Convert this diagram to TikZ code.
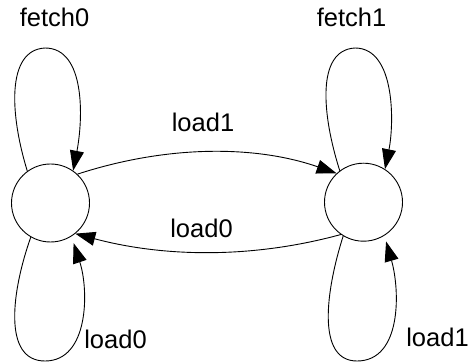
\documentclass[tikz,border=0pt]{standalone}
\usepackage{fontspec}
\setmainfont{Liberation Sans}
\usetikzlibrary{arrows.meta}

\tikzset{
  state/.style={circle, draw, line width=0.9pt, minimum size=78pt, inner sep=0pt},
  trans/.style={draw, line width=0.9pt, -{Triangle[length=20pt,width=14pt]}},
  lbl/.style={anchor=base, inner sep=0pt, font=\fontsize{25.5}{30}\selectfont}
}

\begin{document}
\begin{tikzpicture}[x=1pt, y=-1pt]
  \useasboundingbox (0,0) rectangle (468,363);

  % the two states
  \node[state] (s0) at (50.5,203) {};
  \node[state] (s1) at (363.5,202.2) {};

  % self loops above
  \path[trans] (s0.126) .. controls (10,115) and (6,50) .. (45,48)
                        .. controls (86,48) and (83,120) .. (s0.55.5);
  \path[trans] (s1.127) .. controls (322,115) and (316,50) .. (355,48)
                        .. controls (396,48) and (394,125) .. (s1.57.5);

  % self loops below
  \path[trans, shorten >=7pt] (s0.-120) .. controls (12,290) and (2,361) .. (45,361)
                        .. controls (89,361) and (89,290) .. (s0.-58.5);
  \path[trans, shorten >=6pt] (s1.-121) .. controls (326,290) and (316,361) .. (357,361)
                        .. controls (402,361) and (400,290) .. (s1.-58);

  % transitions between the states
  \path[trans] (s0.47) .. controls (167,145) and (255,145) .. (s1.133);
  \path[trans] (s1.-125) .. controls (255,258) and (167,258) .. (s0.-51);

  % labels
  \node[lbl] (l0) at (54.5,27) {fetch0};
  \node[lbl] (l1) at (351.5,27) {fetch1};
  \node[lbl] (l2) at (203,132) {load1};
  \node[lbl] (l3) at (201.5,237) {load0};
  \node[lbl] (l4) at (115.5,348) {load0};
  \node[lbl] (l5) at (437.5,346) {load1};
\end{tikzpicture}
\end{document}
